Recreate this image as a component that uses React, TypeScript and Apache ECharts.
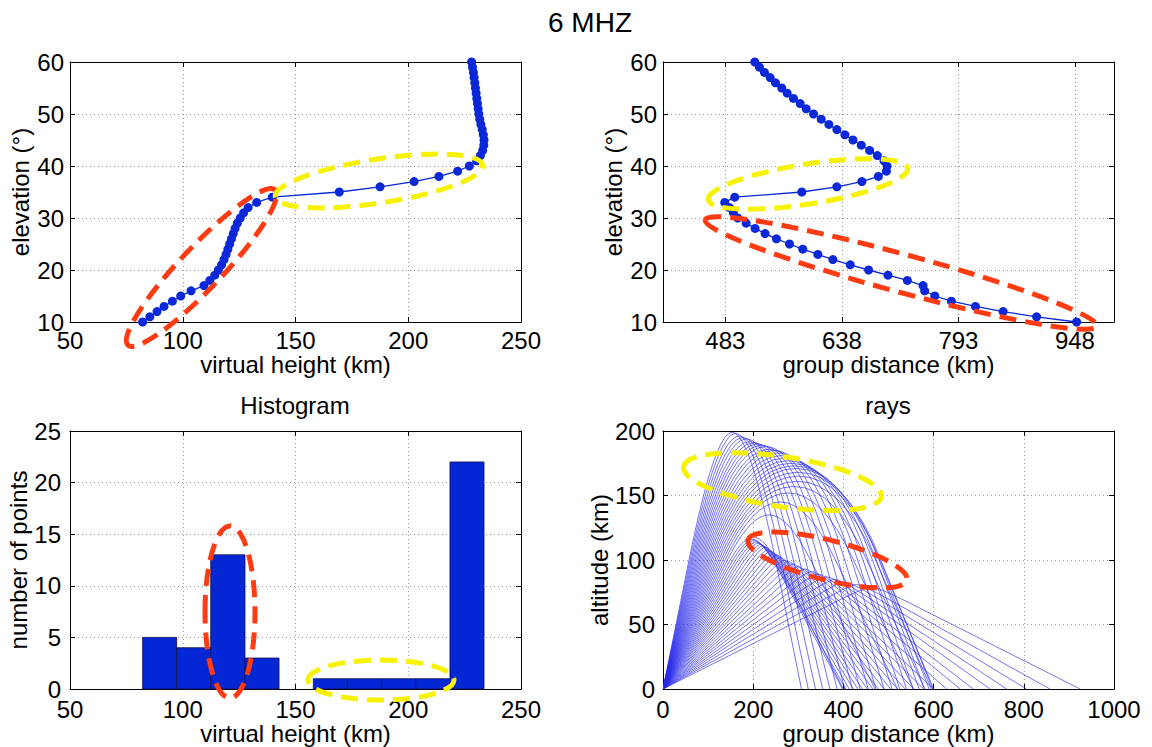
import React, { useEffect, useRef } from 'react';
import * as echarts from 'echarts';

const FONT = 'Liberation Sans, Arial, Helvetica, sans-serif';

// elevation angles (deg), one per sounding point
const elevations = [10, 11, 12, 13, 14, 15, 16, 17, 18, 19, 20, 21, 22, 23, 24, 25, 26, 27, 28, 29, 30, 31, 32, 33, 34, 35, 36, 37, 38, 39, 40, 41, 42, 43, 44, 45, 46, 47, 48, 49, 50, 51, 52, 53, 54, 55, 56, 57, 58, 59, 60];
// virtual height (km) per elevation
const virtualHeight = [82.2, 85.4, 88.6, 91.7, 95.4, 99.1, 103.7, 109.4, 112.0, 114.2, 115.8, 117.2, 118.3, 119.2, 120.0, 120.8, 121.6, 122.4, 123.2, 124.2, 125.5, 127.0, 129.0, 132.8, 139.7, 169.4, 187.5, 202.6, 213.6, 221.9, 227.1, 230.3, 232.0, 233.0, 233.5, 233.6, 233.3, 232.8, 232.2, 231.7, 231.3, 231.0, 230.7, 230.4, 230.1, 229.8, 229.5, 229.2, 228.9, 228.5, 228.1];
// group distance (km) per elevation
const groupDistance = [950.3, 897.0, 852.5, 815.7, 783.7, 761.5, 748.1, 745.9, 725.1, 699.3, 673.5, 649.1, 626.0, 606.0, 586.0, 568.3, 550.9, 535.8, 522.5, 510.6, 499.4, 493.7, 488.3, 482.1, 495.4, 584.7, 631.3, 664.6, 686.5, 697.2, 698.0, 694.0, 685.1, 674.9, 663.8, 652.7, 642.0, 631.3, 620.7, 610.5, 600.3, 590.5, 582.5, 573.6, 565.2, 558.0, 549.6, 542.5, 535.0, 528.3, 522.1];

// histogram of virtual heights
const histEdges = [82.2, 97.3, 112.4, 127.6, 142.7, 157.9, 173.0, 188.2, 203.3, 218.5, 233.6];
const histCounts = [5, 4, 13, 3, 0, 1, 1, 1, 1, 22];

// ray paths: bend height, apex height, apex ground distance (km) per elevation
const rayBendH = [67, 69, 71, 73, 75, 77, 79, 81, 83, 85, 87, 88, 89, 90, 90, 90, 90, 90, 90, 90, 90, 90, 90, 90, 92, 100, 100, 100, 100, 100, 100, 100, 100, 100, 100, 100, 100, 100, 100, 100, 100, 100, 100, 100, 100, 100, 100, 100, 100, 100, 100];
const rayApexH = [79, 81, 83, 85, 87, 89, 91, 93, 95, 97, 99, 100, 102, 104, 105, 107, 108, 110, 111, 112, 113, 114, 115, 116, 118, 135, 145, 152, 157, 161, 165, 168, 171, 173, 175, 177, 179, 181, 183, 185, 186, 188, 189, 190, 191, 192, 194, 195, 196, 198, 199];
const rayApexX = [462.5, 429, 403, 381, 362.5, 344, 329.5, 314.5, 300, 289, 278, 268.5, 260, 252.5, 245, 238.5, 232.5, 226.5, 221, 216, 211, 206.5, 202.5, 199, 200, 235, 260, 277.5, 290, 297.5, 300, 299, 295, 290, 284, 277.5, 270, 262.5, 254, 245, 236, 227.5, 218.5, 210, 201.5, 193, 185, 177, 169, 161, 153.5];

const groupDistanceTicks = [483, 638, 793, 948];

const BLUE = '#0a28d8';

function mainX(gridIndex: number, min: number, max: number, interval: number | undefined, name: string, extra: any = {}, margin = 6) {
  return {
    type: 'value', gridIndex, min, max, interval, position: 'bottom',
    name, nameLocation: 'middle', nameGap: 30,
    nameTextStyle: { fontSize: 24, color: '#000', fontFamily: FONT },
    axisLine: { show: true, onZero: false, lineStyle: { color: '#000', width: 1 } },
    axisTick: { show: true, inside: true, length: 5, lineStyle: { color: '#000' } },
    axisLabel: { fontSize: 24, color: '#000', fontFamily: FONT, margin, formatter: (v: number) => String(v) },
    splitLine: { show: true, lineStyle: { color: '#9a9a9a', type: [1, 3], width: 1 } },
    ...extra,
  };
}
function mainY(gridIndex: number, min: number, max: number, interval: number, name: string, nameGap: number, margin = 6) {
  return {
    type: 'value', gridIndex, min, max, interval, position: 'left',
    name, nameLocation: 'middle', nameGap,
    nameTextStyle: { fontSize: 24, color: '#000', fontFamily: FONT },
    axisLine: { show: true, onZero: false, lineStyle: { color: '#000', width: 1 } },
    axisTick: { show: true, inside: true, length: 5, lineStyle: { color: '#000' } },
    axisLabel: { fontSize: 24, color: '#000', fontFamily: FONT, margin, formatter: (v: number) => String(v) },
    splitLine: { show: true, lineStyle: { color: '#9a9a9a', type: [1, 3], width: 1 } },
  };
}
function mirror(kind: 'x' | 'y', gridIndex: number, min: number, max: number, interval: number | undefined, extra: any = {}) {
  return {
    type: 'value', gridIndex, min, max, interval, position: kind === 'x' ? 'top' : 'right',
    axisLine: { show: true, onZero: false, lineStyle: { color: '#000', width: 1 } },
    axisTick: { show: true, inside: true, length: 5, lineStyle: { color: '#000' }, ...(extra.axisTick || {}) },
    axisLabel: { show: false },
    splitLine: { show: false },
  };
}

function ellipse(cx: number, cy: number, rx: number, ry: number, deg: number, color: string) {
  return {
    type: 'ellipse', x: cx, y: cy, rotation: (deg * Math.PI) / 180, z: 100,
    shape: { cx: 0, cy: 0, rx, ry },
    style: { fill: null, stroke: color, lineWidth: 5, lineDash: [17, 9] },
    silent: true,
  };
}
function label(text: string, x: number, y: number, size: number) {
  return {
    type: 'text', x, y, z: 50,
    style: { text, fontSize: size, fontFamily: FONT, fill: '#000', align: 'center', verticalAlign: 'middle' },
  };
}

export default function App() {
  const ref = useRef<HTMLDivElement>(null);
  useEffect(() => {
    if (!ref.current) return;
    const chart = echarts.init(ref.current, null, { renderer: 'svg' });
    const RED = '#ff3b12';
    const YEL = '#f6f200';
    const option: any = {
      animation: false,
      backgroundColor: '#fff',
      grid: [
        { left: 70, top: 62, width: 451, height: 260 },
        { left: 663, top: 62, width: 451, height: 260 },
        { left: 70, top: 431, width: 451, height: 258 },
        { left: 663, top: 431, width: 451, height: 258 },
      ],
      xAxis: [
        mainX(0, 50, 250, 50, 'virtual height (km)'),
        mirror('x', 0, 50, 250, 50),
        mainX(1, 400, 1000, undefined, 'group distance (km)', {
          axisTick: { show: true, inside: true, length: 5, lineStyle: { color: '#000' }, customValues: groupDistanceTicks },
          axisLabel: { fontSize: 24, color: '#000', fontFamily: FONT, margin: 6, customValues: groupDistanceTicks },
        }),
        mirror('x', 1, 400, 1000, undefined, { axisTick: { customValues: groupDistanceTicks } }),
        mainX(2, 50, 250, 50, 'virtual height (km)', {}, 8),
        mirror('x', 2, 50, 250, 50),
        mainX(3, 0, 1000, 200, 'group distance (km)', {}, 8),
        mirror('x', 3, 0, 1000, 200),
      ],
      yAxis: [
        mainY(0, 10, 60, 10, 'elevation (°)', 38),
        mirror('y', 0, 10, 60, 10),
        mainY(1, 10, 60, 10, 'elevation (°)', 38),
        mirror('y', 1, 10, 60, 10),
        mainY(2, 0, 25, 5, 'number of points', 38, 9),
        mirror('y', 2, 0, 25, 5),
        mainY(3, 0, 200, 50, 'altitude (km)', 52, 8),
        mirror('y', 3, 0, 200, 50),
      ],
      series: [
        {
          type: 'line', xAxisIndex: 0, yAxisIndex: 0,
          data: elevations.map((e, i) => [virtualHeight[i], e]),
          symbol: 'circle', symbolSize: 9,
          itemStyle: { color: BLUE }, lineStyle: { color: BLUE, width: 1.3 },
        },
        {
          type: 'line', xAxisIndex: 2, yAxisIndex: 2,
          data: elevations.map((e, i) => [groupDistance[i], e]),
          symbol: 'circle', symbolSize: 9,
          itemStyle: { color: BLUE }, lineStyle: { color: BLUE, width: 1.3 },
        },
        {
          type: 'custom', xAxisIndex: 4, yAxisIndex: 4,
          data: histCounts.map((c, i) => [histEdges[i], histEdges[i + 1], c]),
          renderItem: (params: any, api: any) => {
            const x0 = api.value(0), x1 = api.value(1), c = api.value(2);
            if (!c) return null;
            const p0 = api.coord([x0, c]);
            const p1 = api.coord([x1, 0]);
            return {
              type: 'rect',
              shape: { x: p0[0], y: p0[1], width: p1[0] - p0[0], height: p1[1] - p0[1] },
              style: { fill: '#0427d6', stroke: '#10104a', lineWidth: 0.8 },
            };
          },
        },
        {
          type: 'custom', xAxisIndex: 6, yAxisIndex: 6, clip: true,
          data: elevations.map((e, i) => [e, rayBendH[i], rayApexH[i], rayApexX[i]]),
          renderItem: (params: any, api: any) => {
            const e = api.value(0), hb = api.value(1), ya = api.value(2), xa = api.value(3);
            const t = Math.tan((e * Math.PI) / 180);
            const xl = 2 * xa;
            const O = api.coord([0, 0]);
            const B = api.coord([hb / t, hb]);
            const C = api.coord([ya / t, ya]);
            const A = api.coord([xa, ya]);
            const C2 = api.coord([xl - ya / t, ya]);
            const B2 = api.coord([xl - hb / t, hb]);
            const L = api.coord([xl, 0]);
            const st = { stroke: '#2e2eea', lineWidth: 0.7, fill: null, opacity: 0.95 };
            return {
              type: 'group',
              children: [
                { type: 'line', shape: { x1: O[0], y1: O[1], x2: B[0], y2: B[1] }, style: st },
                { type: 'bezierCurve', shape: { x1: B[0], y1: B[1], cpx1: C[0], cpy1: C[1], x2: A[0], y2: A[1] }, style: st },
                { type: 'bezierCurve', shape: { x1: A[0], y1: A[1], cpx1: C2[0], cpy1: C2[1], x2: B2[0], y2: B2[1] }, style: st },
                { type: 'line', shape: { x1: B2[0], y1: B2[1], x2: L[0], y2: L[1] }, style: st },
              ],
            };
          },
        },
      ],
      graphic: [
        label('6 MHZ', 590, 22, 28),
        label('Histogram', 295, 405, 24),
        label('rays', 888, 405, 24),
        ellipse(201.5, 267.5, 107, 21, 46.5, RED),
        ellipse(379, 181, 105, 22, 8.7, YEL),
        ellipse(808, 184, 101, 20, 9, YEL),
        ellipse(901, 273, 203, 19, -15.2, RED),
        ellipse(230, 612, 25, 86, 0, RED),
        ellipse(381, 680, 73, 20, 0, YEL),
        ellipse(782.5, 481.7, 100, 25, -8.6, YEL),
        ellipse(827.5, 560, 82, 20, -14.2, RED),
      ],
    };
    chart.setOption(option);
    return () => chart.dispose();
  }, []);
  return <div ref={ref} style={{ position: 'fixed', left: 0, top: 0, width: 1152, height: 747, background: '#fff' }} />;
}
